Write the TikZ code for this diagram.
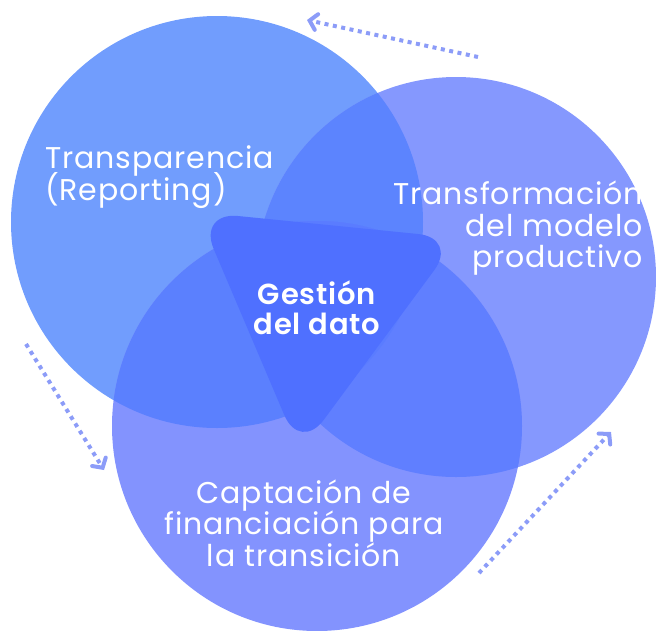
\documentclass[tikz,border=0pt]{standalone}
\usepackage{fontspec}
\setmainfont{Poppins}
\newfontfamily\lblfont[LetterSpace=3]{Poppins}
\newfontfamily\ctrfont[LetterSpace=3]{Poppins SemiBold}
\usetikzlibrary{arrows.meta}
\lineskiplimit=-100pt
\definecolor{cA}{HTML}{719DFD}
\definecolor{cB}{HTML}{8598FE}
\definecolor{cC}{HTML}{8393FE}
\definecolor{cAB}{HTML}{5C84FE}
\definecolor{cAC}{HTML}{5B80FE}
\definecolor{cBC}{HTML}{607FFF}
\definecolor{cABC}{HTML}{5A7CFF}
\definecolor{cTri}{HTML}{4F70FF}
\definecolor{cArr}{HTML}{8C9CF8}
\tikzset{
  lbl/.style={text=white, inner sep=0pt, execute at begin node={\lineskiplimit=-100pt\relax}},
  lblA/.style={lbl, font=\lblfont\fontsize{30}{32}\selectfont},
  lblB/.style={lbl, font=\lblfont\fontsize{30}{31.5}\selectfont},
  lblC/.style={lbl, font=\lblfont\fontsize{30}{31.5}\selectfont},
  ctr/.style={lbl, font=\ctrfont\fontsize{29}{29.5}\selectfont, align=center},
  cyc/.style={draw=cArr, line width=4pt, dash pattern=on 4pt off 4.5pt, -{Straight Barb[length=7pt,width=16pt,line width=4pt,line cap=round]}}
}
\begin{document}
\begin{tikzpicture}[x=1pt,y=-1pt]
\useasboundingbox (0,0) rectangle (656,630);
\def\cirA{(217,222) circle (206)}
\def\cirB{(456,277) circle (200)}
\def\cirC{(317,426) circle (205)}
\fill[cA] \cirA;
\fill[cB] \cirB;
\fill[cC] \cirC;
\begin{scope}\clip \cirA; \fill[cAB] \cirB; \end{scope}
\begin{scope}\clip \cirA; \fill[cAC] \cirC; \end{scope}
\begin{scope}\clip \cirB; \fill[cBC] \cirC; \end{scope}
\begin{scope}\clip \cirA; \clip \cirB; \fill[cABC] \cirC; \end{scope}
\fill[cTri, rounded corners=40pt] (198,212) -- (458,238) -- (300,452) -- cycle;
\node[lblA, align=left, anchor=base west] (tA) at (45,200) {Transparencia\\(Reporting)};
\node[lblB, align=right, anchor=north east] (tB) at (643,181) {Transformación\\del modelo\\productivo};
\node[lblC, align=center, anchor=base] (tC) at (304,566) {Captación de\\financiación para\\la transición};
\node[ctr, anchor=base] (tD) at (317,334) {Gestión\\del dato};
\coordinate (a1s) at (478,57);
\coordinate (a1e) at (307,20);
\coordinate (a2s) at (26,344);
\coordinate (a2e) at (104,470);
\coordinate (a3s) at (479,573);
\coordinate (a3e) at (611,432);
\draw[cyc] (a1s) -- (a1e);
\draw[cyc] (a2s) -- (a2e);
\draw[cyc] (a3s) -- (a3e);
\end{tikzpicture}
\end{document}
